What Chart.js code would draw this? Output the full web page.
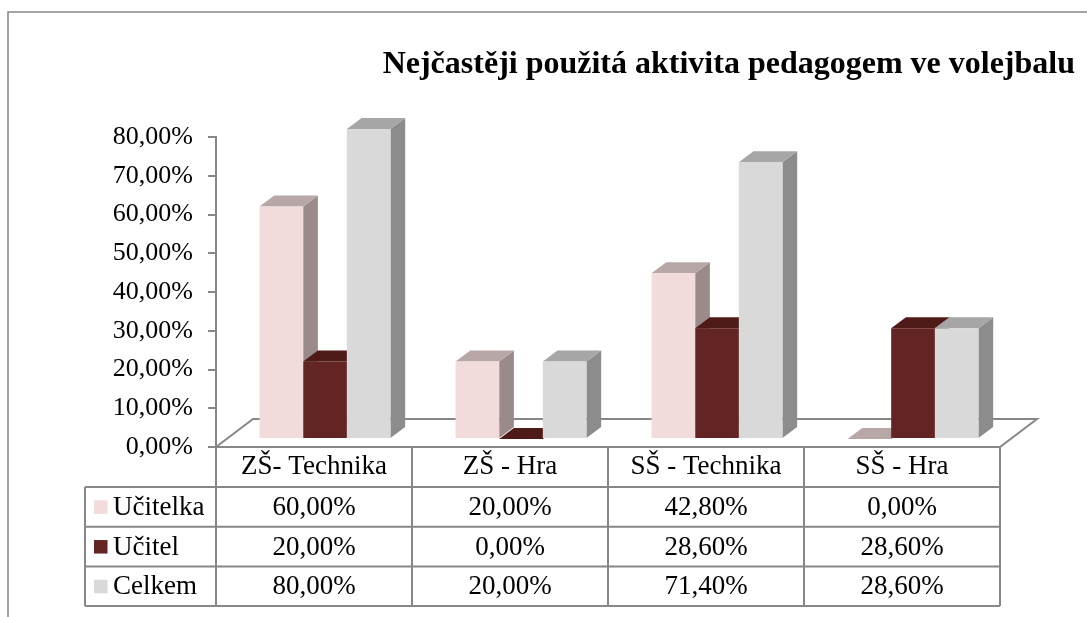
<!DOCTYPE html>
<html>
<head>
<meta charset="utf-8">
<script src="https://cdn.jsdelivr.net/npm/chart.js@4.4.0/dist/chart.umd.min.js"></script>
<style>
  html, body { margin: 0; padding: 0; background: #fff; }
  #obal { width: 1087px; height: 617px; position: relative; }
</style>
</head>
<body>
<div id="obal"><canvas id="graf"></canvas></div>
<script>
// ====== DATA ======
const nadpis = "Nejčastěji použitá aktivita pedagogem ve volejbalu";
const kategorie = ["ZŠ- Technika", "ZŠ - Hra", "SŠ - Technika", "SŠ - Hra"];
const serie = ["Učitelka", "Učitel", "Celkem"];
const ucitelka = [0.60, 0.20, 0.428, 0.00];
const ucitel = [0.20, 0.00, 0.286, 0.286];
const celkem = [0.80, 0.20, 0.714, 0.286];
const osaMax = 0.8;
const osaKrok = 0.1;

// ====== STYL ======
const pismo = "'Liberation Serif', 'Times New Roman', serif";
const seda = "#878787";
const barvy = [
  { celo: "#F2DCDB", vrch: "#B7A7A6", bok: "#9A8B8A" },
  { celo: "#632523", vrch: "#4F1B19", bok: "#431614" },
  { celo: "#D9D9D9", vrch: "#A6A6A6", bok: "#8C8C8C" }
];
const ROVINA = { x: 11, y: -8 };     // posun sloupců do hloubky
const BOK = { x: 14.7, y: -11 };     // hloubka sloupce
const PODLAHA = { x: 37, y: -28 };   // hloubka podlahy

const pct = v => (v * 100).toFixed(2).replace(".", ",") + "%";

function mnohouhelnik(ctx, body, barva) {
  ctx.beginPath();
  ctx.moveTo(body[0][0], body[0][1]);
  body.slice(1).forEach(b => ctx.lineTo(b[0], b[1]));
  ctx.closePath();
  ctx.fillStyle = barva;
  ctx.fill();
}

// ====== 3D EFEKT + TABULKA ======
const efekt3D = {
  id: "efekt3D",
  beforeDatasetsDraw(chart) {
    const { ctx, chartArea: a } = chart;
    // podlaha
    ctx.save();
    ctx.strokeStyle = seda;
    ctx.lineWidth = 2;
    ctx.beginPath();
    ctx.moveTo(a.left, a.bottom);
    ctx.lineTo(a.left + PODLAHA.x, a.bottom + PODLAHA.y);
    ctx.lineTo(a.right + PODLAHA.x, a.bottom + PODLAHA.y);
    ctx.lineTo(a.right, a.bottom);
    ctx.closePath();
    ctx.stroke();
    ctx.restore();

    // boky a vršky sloupců, čela kreslí Chart.js ve stejném posunu
    ctx.save();
    ctx.translate(ROVINA.x, ROVINA.y);
    chart.data.datasets.forEach((ds, di) => {
      chart.getDatasetMeta(di).data.forEach(bar => {
        const L = bar.x - bar.width / 2, R = bar.x + bar.width / 2;
        const T = bar.y, B = bar.base;
        mnohouhelnik(ctx, [[R, T], [R + BOK.x, T + BOK.y], [R + BOK.x, B + BOK.y], [R, B]], barvy[di].bok);
        mnohouhelnik(ctx, [[L, T], [R, T], [R + BOK.x, T + BOK.y], [L + BOK.x, T + BOK.y]], barvy[di].vrch);
      });
    });
  },
  afterDatasetsDraw(chart) {
    chart.ctx.restore();
  },
  afterDraw(chart) {
    const { ctx, chartArea: a, scales } = chart;
    const sirka = (a.right - a.left) / kategorie.length;
    const hlava = 40;
    const radek = 39.7;
    const levy = 85;
    const radky = [ucitelka, ucitel, celkem];
    const horni = a.bottom + hlava;
    const dolni = horni + radek * radky.length;

    ctx.save();
    ctx.strokeStyle = seda;
    ctx.lineWidth = 2;
    ctx.beginPath();
    for (let i = 0; i <= kategorie.length; i++) {
      const x = a.left + i * sirka;
      ctx.moveTo(x, a.bottom);
      ctx.lineTo(x, dolni);
    }
    ctx.moveTo(levy, horni);
    ctx.lineTo(levy, dolni);
    for (let r = 0; r <= radky.length; r++) {
      const y = horni + r * radek;
      ctx.moveTo(levy, y);
      ctx.lineTo(a.right, y);
    }
    ctx.stroke();

    ctx.fillStyle = "#000";
    ctx.font = "27px " + pismo;
    ctx.textBaseline = "middle";
    radky.forEach((hodnoty, r) => {
      const yc = horni + r * radek + radek / 2 + 1;
      ctx.fillStyle = barvy[r].celo;
      ctx.fillRect(94, yc - 7.5, 13.5, 13.5);
      ctx.fillStyle = "#000";
      ctx.textAlign = "left";
      ctx.fillText(serie[r], 113, yc);
      ctx.textAlign = "center";
      hodnoty.forEach((v, j) => ctx.fillText(pct(v), scales.x.getPixelForValue(j), yc));
    });

    // nadpis
    ctx.font = "bold 32px " + pismo;
    ctx.textAlign = "right";
    ctx.textBaseline = "alphabetic";
    ctx.fillText(nadpis, 1075, 73);

    // rámeček
    ctx.lineWidth = 1.5;
    ctx.beginPath();
    ctx.moveTo(8, 617);
    ctx.lineTo(8, 12);
    ctx.lineTo(1087, 12);
    ctx.stroke();
    ctx.restore();
  }
};

const datasety = [ucitelka, ucitel, celkem].map((hodnoty, i) => ({
  label: serie[i],
  data: hodnoty,
  backgroundColor: barvy[i].celo,
  borderWidth: 0,
  clip: false
}));

new Chart(document.getElementById("graf"), {
  type: "bar",
  data: { labels: kategorie, datasets: datasety },
  options: {
    responsive: true,
    maintainAspectRatio: false,
    animation: false,
    layout: { padding: { top: 137, left: 0, right: 87, bottom: 0 } },
    datasets: { bar: { categoryPercentage: 0.668, barPercentage: 1 } },
    plugins: {
      legend: { display: false },
      tooltip: { enabled: false }
    },
    scales: {
      x: {
        grid: { display: false, drawTicks: false },
        border: { display: false },
        ticks: { color: "#000", font: { family: pismo, size: 27 }, padding: 4 },
        afterFit: s => { s.height = 170; }
      },
      y: {
        min: 0,
        max: osaMax,
        ticks: {
          stepSize: osaKrok,
          color: "#000",
          padding: 15,
          font: { family: pismo, size: 26 },
          callback: v => pct(v)
        },
        grid: { drawOnChartArea: false, color: seda, lineWidth: 2, tickLength: 8 },
        border: { color: seda, width: 2 },
        afterFit: s => { s.width = 216; }
      }
    }
  },
  plugins: [efekt3D]
});
</script>
</body>
</html>
